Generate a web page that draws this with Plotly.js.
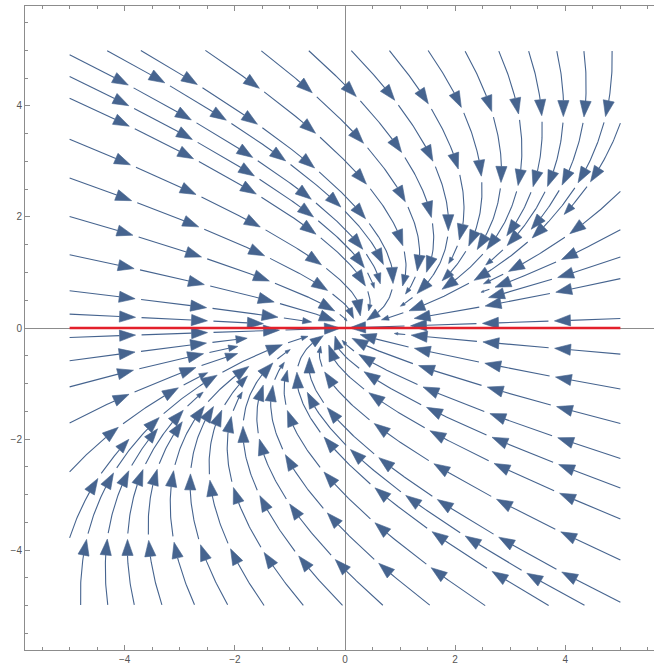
<!DOCTYPE html>
<html><head><meta charset="utf-8">
<script src="https://cdn.plot.ly/plotly-3.0.1.min.js"></script>
<style>html,body{margin:0;padding:0;overflow:hidden;background:#fff;width:654px;height:666px}#chart{width:666px;height:666px}</style>
</head><body><div id="chart"></div>
<script>
// Vector field of the stream plot: x' = -x + y, y' = -y
const fieldRowX = [-1, 1];
const fieldRowY = [0, -1];

// Streamline entry points
const leftEdgeUpperY = [4.92, 4.53, 4.14, 3.40, 2.70, 2.01, 1.32, 0.67, 0.25];   // x = -5
const leftEdgeLowerY = [-0.17, -0.59, -1.06, -1.71, -2.59, -3.78];               // x = -5
const rightEdgeUpperY = [0.17, 0.89, 1.28, 1.77, 2.46, 3.69];                   // x = 5
const rightEdgeLowerY = [-0.47, -1.10, -1.72, -2.35, -2.88, -3.44, -4.18, -4.94]; // x = 5
const topEdgeX = [4.85, 4.34, 3.85, 3.34, 2.80, 2.19, 1.53, 0.83, 0.14, -0.63, -1.49, -2.49, -3.66, -4.27]; // y = 4.97
const bottomEdgeX = [-4.80, -4.31, -3.83, -3.33, -2.74, -2.14, -1.49, -0.78, -0.07, 0.66, 1.51, 2.50, 3.65, 4.30]; // y = -4.97

const xRange = [-5.81, 5.81];
const yRange = [-5.8, 5.8];
const majorDtick = 2;
const minorDtick = 0.5;
const redLineX = [-5, 5];
const redLineY = [0, 0];

const W = 666, H = 666, M = {l: 25, r: 1, t: 6, b: 16};
const SX = (W - M.l - M.r) / (xRange[1] - xRange[0]);
const SY = (H - M.t - M.b) / (yRange[1] - yRange[0]);
const DOM = 5.0001, DTEST = 7, RSTOP = 4, STEP = 1;

function vel(x, y) {
  const u = fieldRowX[0] * x + fieldRowX[1] * y;
  const v = fieldRowY[0] * x + fieldRowY[1] * y;
  const px = u * SX, py = v * SY;
  const n = Math.hypot(px, py);
  if (n < 1e-12) return null;
  return [px / n / SX, py / n / SY];
}
const grid = new Map();
function key(i, j) { return i + ',' + j; }
function tooClose(x, y) {
  const px = x * SX, py = y * SY;
  const ci = Math.floor(px / DTEST), cj = Math.floor(py / DTEST);
  for (let a = -1; a <= 1; a++) for (let b = -1; b <= 1; b++) {
    const c = grid.get(key(ci + a, cj + b));
    if (!c) continue;
    for (const q of c) if (Math.hypot(q[0] - px, q[1] - py) < DTEST) return true;
  }
  return false;
}
function addToGrid(pts) {
  for (const p of pts) {
    const px = p[0] * SX, py = p[1] * SY;
    const k = key(Math.floor(px / DTEST), Math.floor(py / DTEST));
    if (!grid.has(k)) grid.set(k, []);
    grid.get(k).push([px, py]);
  }
}
function trace(x0, y0, dir) {
  const pts = [];
  let x = x0, y = y0;
  for (let i = 0; i < 5000; i++) {
    const k1 = vel(x, y); if (!k1) break;
    const xm = x + dir * k1[0] * STEP / 2, ym = y + dir * k1[1] * STEP / 2;
    const k2 = vel(xm, ym); if (!k2) break;
    x += dir * k2[0] * STEP; y += dir * k2[1] * STEP;
    if (Math.abs(x) > DOM || Math.abs(y) > DOM) break;
    if (Math.hypot(x * SX, y * SY) < RSTOP) break;
    if (tooClose(x, y)) break;
    pts.push([x, y]);
  }
  return pts;
}

const seeds = [];
rightEdgeUpperY.slice(0, 1).forEach(v => seeds.push([5, v]));
leftEdgeLowerY.slice(0, 1).forEach(v => seeds.push([-5, v]));
for (let i = 0; i < topEdgeX.length; i++) { seeds.push([topEdgeX[i], 4.97]); seeds.push([bottomEdgeX[i], -4.97]); }
leftEdgeUpperY.slice().reverse().forEach(v => seeds.push([-5, v]));
rightEdgeLowerY.forEach(v => seeds.push([5, v]));
rightEdgeUpperY.slice(1).forEach(v => seeds.push([5, v]));
leftEdgeLowerY.slice(1).forEach(v => seeds.push([-5, v]));

const lines = [];
for (const s of seeds) {
  if (tooClose(s[0], s[1])) continue;
  const back = trace(s[0], s[1], -1).reverse();
  const fwd = trace(s[0], s[1], 1);
  const pts = back.concat([s], fwd);
  if (pts.length < 8) continue;
  addToGrid(pts);
  lines.push(pts);
}

// split into arrow pieces
const P = 66, G = 6, AL = 16, AW = 5.6;
const lx = [], ly = [], ax = [], ay = [];
function at(pts, cum, s) {
  let i = 1;
  while (i < cum.length - 1 && cum[i] < s) i++;
  const t = (s - cum[i - 1]) / Math.max(1e-9, cum[i] - cum[i - 1]);
  return [pts[i - 1][0] + t * (pts[i][0] - pts[i - 1][0]), pts[i - 1][1] + t * (pts[i][1] - pts[i - 1][1])];
}
for (const pts of lines) {
  const cum = [0];
  for (let i = 1; i < pts.length; i++) cum.push(cum[i - 1] + Math.hypot((pts[i][0] - pts[i - 1][0]) * SX, (pts[i][1] - pts[i - 1][1]) * SY));
  const S = cum[cum.length - 1];
  for (let s0 = 0; s0 < S; s0 += P + G) {
    let tip = s0 + P, sc = 1;
    if (tip > S) { tip = S; const r = S - s0; if (r < 8) break; sc = Math.min(1, r / 50); }
    const al = AL * sc, aw = AW * sc;
    const base = tip - al;
    for (let s = s0; s < base; s += 2) { const p = at(pts, cum, s); lx.push(p[0]); ly.push(p[1]); }
    if (base > s0) { const p = at(pts, cum, base); lx.push(p[0]); ly.push(p[1]); lx.push(null); ly.push(null); }
    const pt = at(pts, cum, tip), pb = at(pts, cum, Math.max(0, base));
    let dx = (pt[0] - pb[0]) * SX, dy = (pt[1] - pb[1]) * SY;
    const n = Math.hypot(dx, dy) || 1; dx /= n; dy /= n;
    const bx = pt[0] - dx * al / SX, by = pt[1] - dy * al / SY;
    ax.push(pt[0], bx - dy * aw / SX, bx + dy * aw / SX, pt[0], null);
    ay.push(pt[1], by + dx * aw / SY, by - dx * aw / SY, pt[1], null);
  }
}

const streamColor = '#46648f';
const traces = [
  {type: 'scatter', mode: 'lines', x: lx, y: ly, line: {color: streamColor, width: 1.1}, hoverinfo: 'skip', connectgaps: false},
  {type: 'scatter', mode: 'lines', x: ax, y: ay, fill: 'toself', fillcolor: streamColor, line: {color: streamColor, width: 0.6}, hoverinfo: 'skip', connectgaps: false},
  {type: 'scatter', mode: 'lines', x: redLineX, y: redLineY, line: {color: '#e3202b', width: 2.6}, hoverinfo: 'skip'}
];
const axisCommon = {
  tickmode: 'linear', tick0: 0, dtick: majorDtick, ticks: 'inside', ticklen: 5, tickcolor: '#8c8c8c', tickwidth: 1,
  showline: true, linecolor: '#8c8c8c', linewidth: 1, mirror: 'allticks', showgrid: false,
  zeroline: true, zerolinecolor: '#8c8c8c', zerolinewidth: 1,
  minor: {tick0: 0, dtick: minorDtick, ticks: 'inside', ticklen: 3, tickcolor: '#8c8c8c', showgrid: false},
  tickfont: {family: 'Liberation Sans, Arial, sans-serif', size: 10, color: '#555'}, fixedrange: true
};
const layout = {
  width: W, height: H, margin: M, paper_bgcolor: '#fff', plot_bgcolor: '#fff', showlegend: false,
  xaxis: Object.assign({}, axisCommon, {range: xRange}),
  yaxis: Object.assign({}, axisCommon, {range: yRange})
};
Plotly.newPlot('chart', traces, layout, {staticPlot: true, displayModeBar: false});
</script></body></html>
